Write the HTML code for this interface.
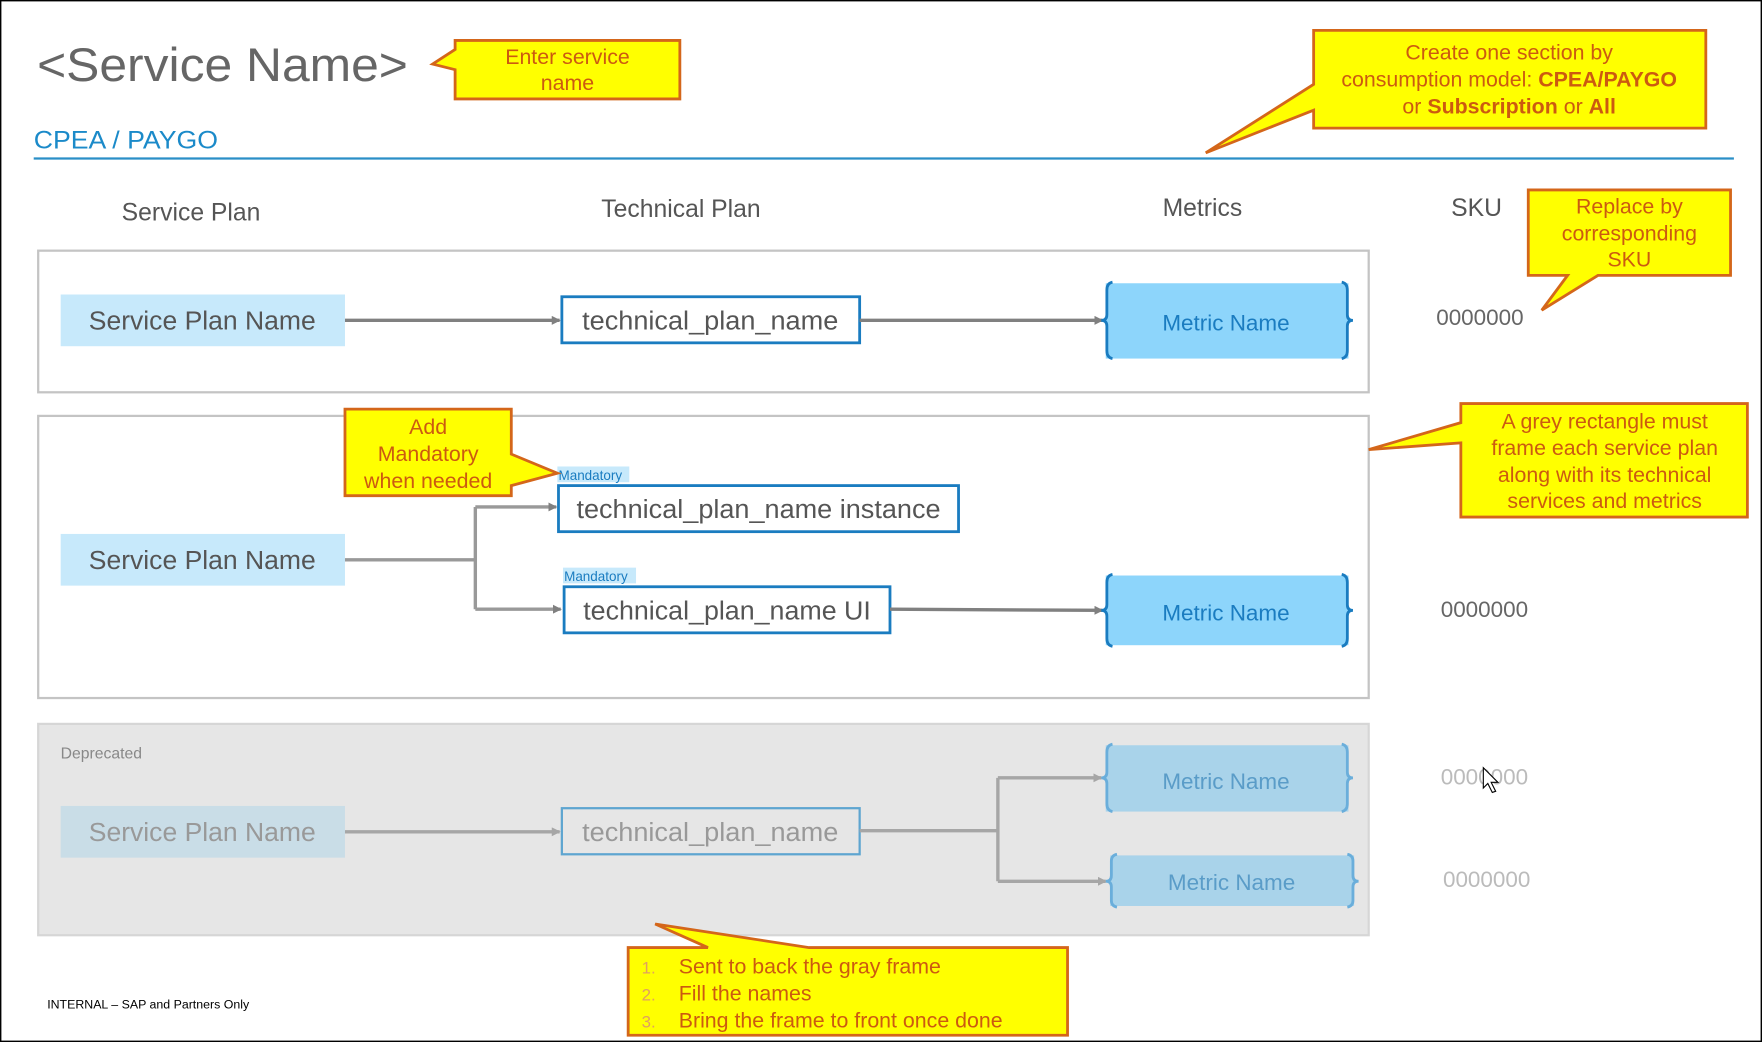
<!DOCTYPE html>
<html><head><meta charset="utf-8"><style>html,body{margin:0;padding:0;background:#fff;overflow:hidden}svg{display:block}text{font-family:"Liberation Sans",sans-serif}</style></head><body>
<svg width="1762" height="1042" viewBox="0 0 1568 927" preserveAspectRatio="none" xmlns="http://www.w3.org/2000/svg">
<defs>
<marker id="a" markerWidth="8" markerHeight="8" refX="7" refY="4" orient="auto" markerUnits="userSpaceOnUse"><path d="M0,0 L8,4 L0,8 z" fill="#808080"/></marker>
<marker id="b" markerWidth="8" markerHeight="8" refX="7" refY="4" orient="auto" markerUnits="userSpaceOnUse"><path d="M0,0 L8,4 L0,8 z" fill="#a6a6a6"/></marker>
</defs>
<rect x="0.5" y="0.5" width="1567" height="926" fill="#fff" stroke="#000" stroke-width="1.5"/>
<text x="33" y="72" font-size="42" fill="#666" textLength="330" lengthAdjust="spacingAndGlyphs">&lt;Service Name&gt;</text>
<text x="30" y="132" font-size="22" fill="#1b8ac9" textLength="164" lengthAdjust="spacingAndGlyphs">CPEA / PAYGO</text>
<line x1="30" y1="141" x2="1543" y2="141" stroke="#2a8fc7" stroke-width="2"/>
<g font-size="22" fill="#555" text-anchor="middle">
<text x="170" y="196">Service Plan</text><text x="606" y="193">Technical Plan</text><text x="1070" y="192">Metrics</text><text x="1314" y="192">SKU</text></g>

<rect x="34" y="223" width="1184" height="126" fill="#fff" stroke="#c4c4c4" stroke-width="2"/>
<rect x="54" y="262" width="253" height="46" fill="#c7e9fb"/>
<text x="180" y="293" font-size="23" fill="#555" text-anchor="middle" textLength="202" lengthAdjust="spacingAndGlyphs">Service Plan Name</text>
<line x1="307" y1="285" x2="498" y2="285" stroke="#808080" stroke-width="3" marker-end="url(#a)"/>
<rect x="500" y="264" width="265" height="41" fill="#fff" stroke="#1a7cc0" stroke-width="2.5"/>
<text x="632" y="293" font-size="23" fill="#555" text-anchor="middle" textLength="228" lengthAdjust="spacingAndGlyphs">technical_plan_name</text>
<line x1="765" y1="285" x2="981" y2="285" stroke="#808080" stroke-width="3" marker-end="url(#a)"/>
<rect x="984" y="252" width="216" height="67" fill="#8dd5fb"/>
<path d="M990,251 Q985,252 985,258 L985,280 Q985,285 980,285 Q985,285 985,290 L985,312 Q985,318 990,319 M1194,251 Q1199,252 1199,258 L1199,280 Q1199,285 1204,285 Q1199,285 1199,290 L1199,312 Q1199,318 1194,319" fill="none" stroke="#1a7cc0" stroke-width="2.5"/>
<text x="1091" y="294" font-size="20" fill="#1a7cc0" text-anchor="middle">Metric Name</text>
<text x="1317" y="289" font-size="20" fill="#666" text-anchor="middle">0000000</text>

<rect x="34" y="370" width="1184" height="251" fill="#fff" stroke="#c4c4c4" stroke-width="2"/>
<rect x="54" y="475" width="253" height="46" fill="#c7e9fb"/>
<text x="180" y="506" font-size="23" fill="#555" text-anchor="middle" textLength="202" lengthAdjust="spacingAndGlyphs">Service Plan Name</text>
<path d="M307,498 L423,498 M423,451 L423,542" stroke="#999" stroke-width="3" fill="none"/>
<line x1="423" y1="451" x2="495" y2="451" stroke="#999" stroke-width="3" marker-end="url(#a)"/>
<line x1="423" y1="542" x2="499" y2="542" stroke="#999" stroke-width="3" marker-end="url(#a)"/>
<rect x="496" y="415" width="64" height="14" fill="#c7e9fb"/>
<text x="497" y="427" font-size="12" fill="#1a7cc0">Mandatory</text>
<rect x="501" y="505" width="65" height="14" fill="#c7e9fb"/>
<text x="502" y="517" font-size="12" fill="#1a7cc0">Mandatory</text>
<rect x="497" y="432" width="356" height="41" fill="#fff" stroke="#1a7cc0" stroke-width="2.5"/>
<text x="675" y="461" font-size="23" fill="#555" text-anchor="middle" textLength="324" lengthAdjust="spacingAndGlyphs">technical_plan_name instance</text>
<rect x="502" y="522" width="290" height="41" fill="#fff" stroke="#1a7cc0" stroke-width="2.5"/>
<text x="647" y="551" font-size="23" fill="#555" text-anchor="middle" textLength="256" lengthAdjust="spacingAndGlyphs">technical_plan_name UI</text>
<line x1="792" y1="542" x2="981" y2="543" stroke="#808080" stroke-width="3" marker-end="url(#a)"/>
<rect x="984" y="512" width="216" height="62" fill="#8dd5fb"/>
<path d="M990,511 Q985,512 985,518 L985,538 Q985,543 980,543 Q985,543 985,548 L985,568 Q985,574 990,575 M1194,511 Q1199,512 1199,518 L1199,538 Q1199,543 1204,543 Q1199,543 1199,548 L1199,568 Q1199,574 1194,575" fill="none" stroke="#1a7cc0" stroke-width="2.5"/>
<text x="1091" y="552" font-size="20" fill="#1a7cc0" text-anchor="middle">Metric Name</text>
<text x="1321" y="549" font-size="20" fill="#666" text-anchor="middle">0000000</text>

<rect x="34" y="644" width="1184" height="188" fill="#e6e6e6" stroke="#d6d6d6" stroke-width="2"/>
<text x="54" y="675" font-size="14" fill="#888">Deprecated</text>
<rect x="54" y="717" width="253" height="46" fill="#c9dde7"/>
<text x="180" y="748" font-size="23" fill="#999" text-anchor="middle" textLength="202" lengthAdjust="spacingAndGlyphs">Service Plan Name</text>
<line x1="307" y1="740" x2="498" y2="740" stroke="#a6a6a6" stroke-width="3" marker-end="url(#b)"/>
<rect x="500" y="719" width="265" height="41" fill="#e6e6e6" stroke="#5ea5d0" stroke-width="2"/>
<text x="632" y="748" font-size="23" fill="#999" text-anchor="middle" textLength="228" lengthAdjust="spacingAndGlyphs">technical_plan_name</text>
<path d="M765,739 L888,739 M888,692 L888,784" stroke="#a6a6a6" stroke-width="3" fill="none"/>
<line x1="888" y1="692" x2="980" y2="692" stroke="#a6a6a6" stroke-width="3" marker-end="url(#b)"/>
<line x1="888" y1="784" x2="984" y2="784" stroke="#a6a6a6" stroke-width="3" marker-end="url(#b)"/>
<rect x="984" y="663" width="216" height="59" fill="#a9d3ea"/>
<path d="M990,662 Q985,663 985,669 L985,687 Q985,692 980,692 Q985,692 985,697 L985,715 Q985,721 990,722 M1194,662 Q1199,663 1199,669 L1199,687 Q1199,692 1204,692 Q1199,692 1199,697 L1199,715 Q1199,721 1194,722" fill="none" stroke="#6aaedb" stroke-width="2.5"/>
<text x="1091" y="702" font-size="20" fill="#5a9cc8" text-anchor="middle">Metric Name</text>
<rect x="988" y="761" width="217" height="45" fill="#a9d3ea"/>
<path d="M994,760 Q989,761 989,766 L989,779 Q989,784 984,784 Q989,784 989,789 L989,801 Q989,806 994,807 M1199,760 Q1204,761 1204,766 L1204,779 Q1204,784 1209,784 Q1204,784 1204,789 L1204,801 Q1204,806 1199,807" fill="none" stroke="#6aaedb" stroke-width="2.5"/>
<text x="1096" y="792" font-size="20" fill="#5a9cc8" text-anchor="middle">Metric Name</text>
<text x="1321" y="698" font-size="20" fill="#bbb" text-anchor="middle">0000000</text>
<text x="1323" y="789" font-size="20" fill="#bbb" text-anchor="middle">0000000</text>
<path d="M1320,683 L1320,701 L1324,697 L1328,705 L1331,704 L1327,696 L1333,696 z" fill="#fff" stroke="#000" stroke-width="1"/>

<text x="42" y="897" font-size="11" fill="#000">INTERNAL – SAP and Partners Only</text>

<g fill="#ffff00" stroke="#d4661a" stroke-width="2.5" stroke-linejoin="miter">
<polygon points="405,36 605,36 605,88 405,88 405,62 385,57 405,44"/>
<polygon points="1169,27 1518,27 1518,114 1169,114 1169,98 1073,136 1169,75"/>
<polygon points="1360,169 1540,169 1540,245 1422,245 1372,276 1395,245 1360,245"/>
<polygon points="1300,359 1555,359 1555,460 1300,460 1300,394 1218,400 1300,376"/>
<polygon points="307,364 455,364 455,404 496,421 455,432 455,441 307,441"/>
<polygon points="559,843 630,843 583,822 720,843 950,843 950,921 559,921"/>
</g>
<g font-size="19" fill="#cc5a10" text-anchor="middle">
<text x="505" y="57">Enter service</text><text x="505" y="80">name</text>
<text x="1343" y="53">Create one section by</text>
<text x="1343" y="77">consumption model: <tspan font-weight="bold">CPEA/PAYGO</tspan></text>
<text x="1343" y="101">or <tspan font-weight="bold">Subscription</tspan> or <tspan font-weight="bold">All</tspan></text>
<text x="1450" y="190">Replace by</text><text x="1450" y="214">corresponding</text><text x="1450" y="237">SKU</text>
<text x="1428" y="381">A grey rectangle must</text><text x="1428" y="405">frame each service plan</text><text x="1428" y="429">along with its technical</text><text x="1428" y="452">services and metrics</text>
<text x="381" y="386">Add</text><text x="381" y="410">Mandatory</text><text x="381" y="434">when needed</text>
</g>
<g font-size="19" fill="#cc5a10">
<text x="571" y="866" font-size="15" fill="#e0a060">1.</text><text x="604" y="866">Sent to back the gray frame</text>
<text x="571" y="890" font-size="15" fill="#e0a060">2.</text><text x="604" y="890">Fill the names</text>
<text x="571" y="914" font-size="15" fill="#e0a060">3.</text><text x="604" y="914">Bring the frame to front once done</text>
</g>
</svg>
</body></html>
